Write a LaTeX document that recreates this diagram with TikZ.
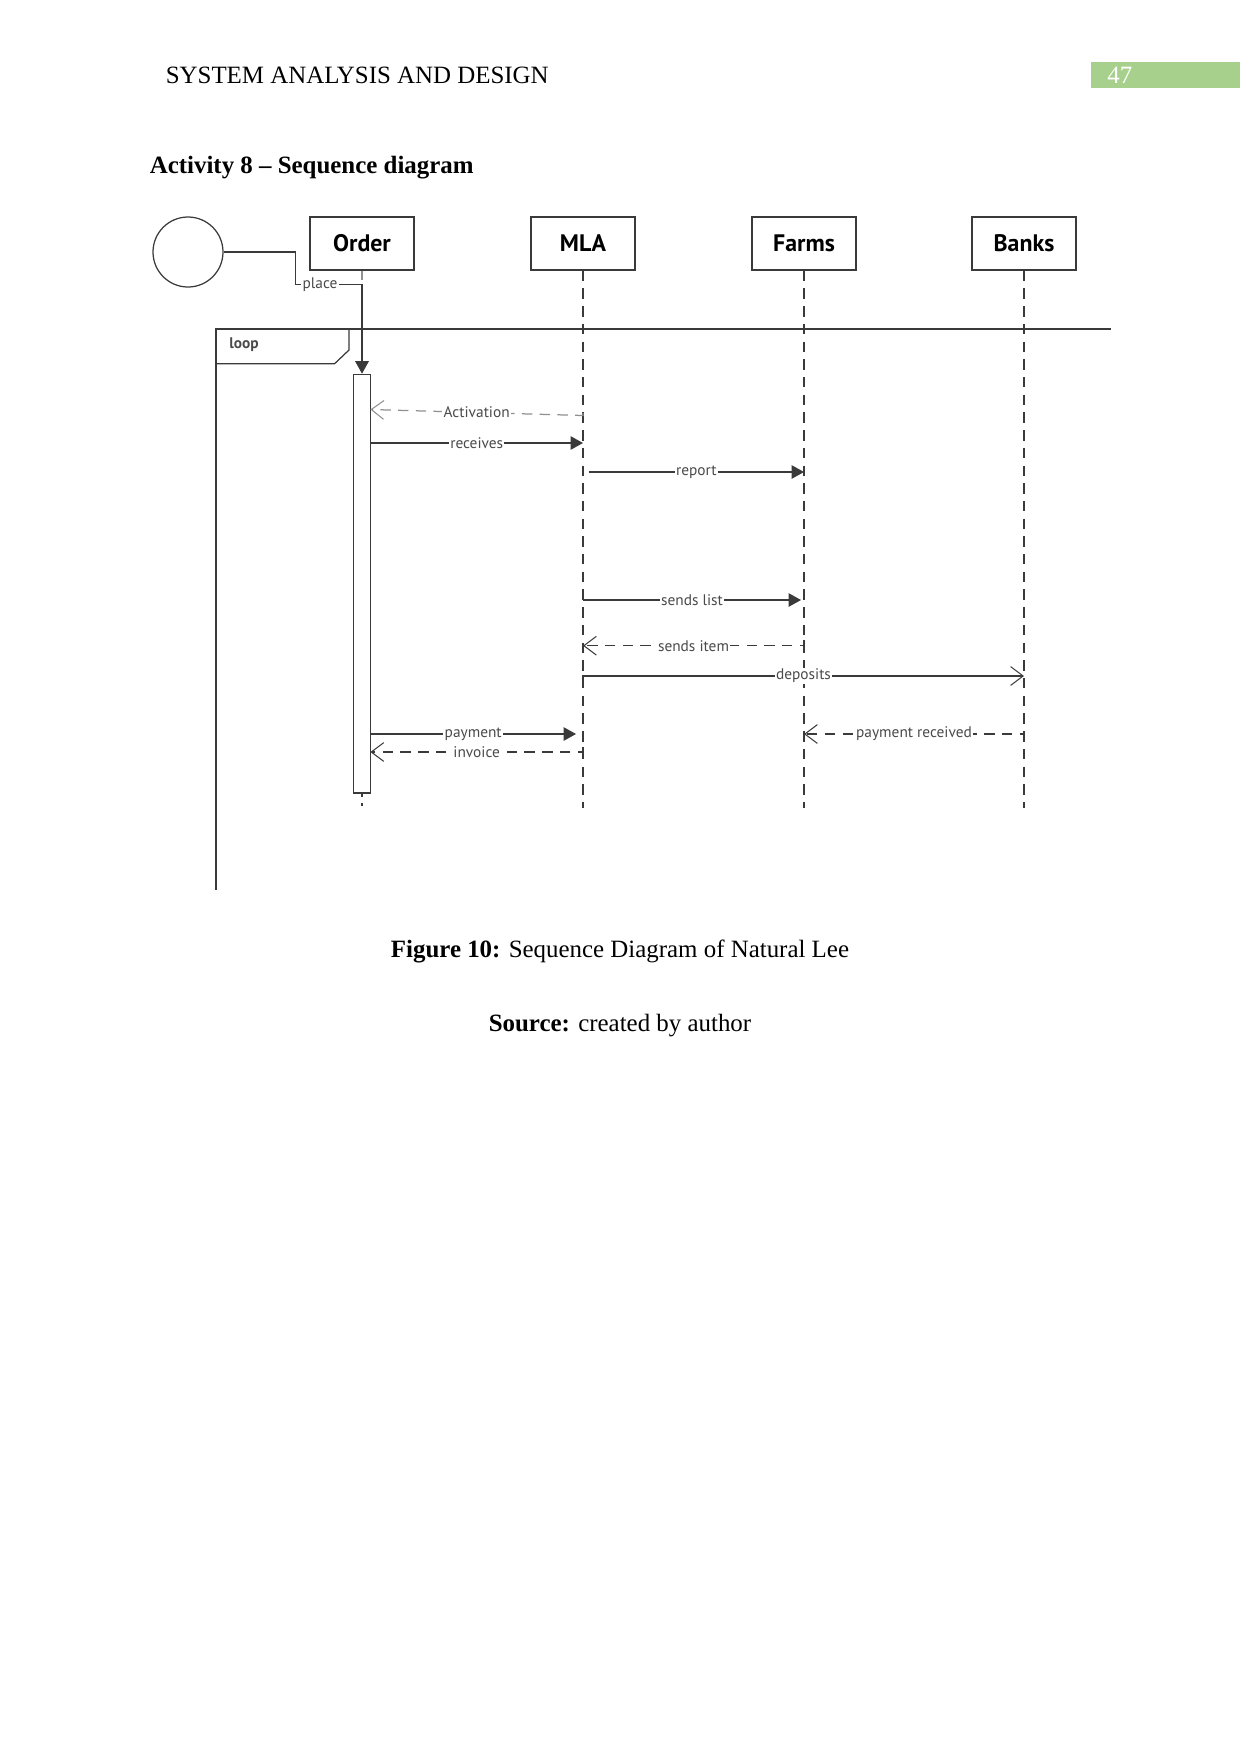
\documentclass[tikz,border=0pt]{standalone}
\usepackage{fontspec}
\setmainfont{Liberation Serif}
\newfontfamily\diag{PT Sans}
\usetikzlibrary{arrows.meta}
\definecolor{ln}{HTML}{3A3A3A}
\definecolor{lt}{HTML}{4A4A4A}
\definecolor{lg}{HTML}{909090}
\definecolor{pgreen}{HTML}{A8D08D}
\def\u{0.48bp}
\tikzset{
  lifebox/.style={draw=ln, line width=0.7pt, minimum width=104*\u, minimum height=53*\u, font=\diag\bfseries\fontsize{11.5}{13}\selectfont, inner sep=0pt},
  lifeline/.style={draw=ln, line width=0.55pt, dash pattern=on 5bp off 3.5bp},
  msgsolid/.style={draw=ln, line width=0.6pt, -{Triangle[length=6bp,width=6.5bp]}},
  msgopen/.style={draw=ln, line width=0.6pt, -{Straight Barb[length=6bp,width=9bp,line width=0.5pt]}},
  retdash/.style={draw=ln, line width=0.6pt, dash pattern=on 5bp off 3.5bp, -{Straight Barb[length=6bp,width=9bp,line width=0.5pt]}},
  lbl/.style={font=\diag\fontsize{7.4}{8}\selectfont, text=lt, fill=white, inner sep=0.6pt},
  frame/.style={draw=ln, line width=0.6pt},
}
\begin{document}
\begin{tikzpicture}[x=0.48bp,y=-0.48bp]
\useasboundingbox (0,0) rectangle (1241,1754);
% header
\node[anchor=west, font=\fontsize{12}{14}\selectfont] (hdr) at (158.5,75) {SYSTEM ANALYSIS AND DESIGN};
\fill[pgreen] (1091,61.5) rectangle (1240,88.4);
\node[anchor=west, text=white, font=\fontsize{12}{14}\selectfont] (pg) at (1100,75) {47};
\node[anchor=west, font=\bfseries\fontsize{12}{14}\selectfont] (title) at (142.5,168) {Activity 8 – Sequence diagram};
% actor
\node[draw=ln, line width=0.6pt, circle, minimum size=70*\u, inner sep=0pt] (circ) at (188,252) {};
% lifeline boxes
\node[lifebox] (order) at (362,243.5) {Order};
\node[lifebox] (mla) at (583,243.5) {MLA};
\node[lifebox] (farms) at (804,243.5) {Farms};
\node[lifebox] (banks) at (1024,243.5) {Banks};
% lifeline ends
\coordinate (mlaE) at (583,808);
\coordinate (farmsE) at (804,808);
\coordinate (banksE) at (1024,808);
\coordinate (orderE) at (362,808);
\coordinate (orderP) at (362,284.2);
\draw[lifeline] (mla.south) -- (mlaE);
\draw[lifeline] (farms.south) -- (farmsE);
\draw[lifeline] (banks.south) -- (banksE);
\draw[draw=lg, line width=0.55pt] (order.south) -- ++(0,9);
% loop frame
\coordinate (lpA) at (216,889.6);
\coordinate (lpB) at (216,329);
\coordinate (lpC) at (1111,329);
\draw[frame] (lpA) -- (lpB) -- (lpC);
\coordinate (lbA) at (216,363.7);
\coordinate (lbB) at (334.6,363.7);
\coordinate (lbC) at (349,350);
\coordinate (lbD) at (349,329);
\draw[frame] (lbA) -- (lbB) -- (lbC) -- (lbD);
\node[anchor=west, font=\diag\bfseries\fontsize{7.4}{8}\selectfont, text=lt] (loopl) at (222,345) {loop};
% activation bar
\node[draw=ln, line width=0.6pt, fill=white, minimum width=17*\u, minimum height=418.6*\u, anchor=north, inner sep=0pt] (act) at (362,373.7) {};
\draw[draw=ln, line width=0.55pt, dash pattern=on 1.5bp off 3bp] (act.south) -- (orderE);
% place
\coordinate (pl1) at (295.4,252);
\coordinate (pl2) at (295.4,284.2);
\draw[msgsolid] (circ.east) -- (pl1) -- (pl2) -- node[lbl, pos=0.37] {place} (orderP) -- (act.north);
% messages
\coordinate (m1a) at (583,413); \coordinate (m1b) at (583,415.5); \coordinate (m1c) at (370.4,409.5);
\draw[draw=lg, line width=0.6pt, dash pattern=on 5bp off 3.5bp, -{Straight Barb[length=6bp,width=9bp,line width=0.5pt]}] (m1a) -- (m1b) -- node[lbl, pos=0.5] {Activation} (m1c);
\coordinate (m2a) at (370.4,443); \coordinate (m2b) at (583,443);
\draw[msgsolid] (m2a) -- node[lbl] {receives} (m2b);
\coordinate (m3a) at (588.6,472); \coordinate (m3b) at (804,472);
\draw[msgsolid] (m3a) -- node[lbl] {report} (m3b);
\coordinate (m4a) at (583,600); \coordinate (m4b) at (801,600);
\draw[msgsolid] (m4a) -- node[lbl] {sends list} (m4b);
\coordinate (m5a) at (804,639.5); \coordinate (m5b) at (804,645.7); \coordinate (m5c) at (583,645.7);
\draw[retdash] (m5a) -- (m5b) -- node[lbl] {sends item} (m5c);
\coordinate (m6a) at (583,682); \coordinate (m6b) at (583,676); \coordinate (m6c) at (1024,676);
\draw[msgopen] (m6a) -- (m6b) -- node[lbl] {deposits} (m6c);
\coordinate (m7a) at (1024,740) ; \coordinate (m7b) at (1024,734); \coordinate (m7c) at (804,734);
\draw[retdash] (m7a) -- (m7b) -- node[lbl] {payment received} (m7c);
\coordinate (m8a) at (370.4,734); \coordinate (m8b) at (576,734);
\draw[msgsolid] (m8a) -- node[lbl] {payment} (m8b);
\coordinate (m9a) at (583,747); \coordinate (m9b) at (583,752); \coordinate (m9c) at (370.4,752);
\draw[retdash] (m9a) -- (m9b) -- node[lbl] {invoice} (m9c);
% captions
\node[font=\fontsize{12}{14}\selectfont] (fig) at (620,951.5) {\textbf{Figure 10:} Sequence Diagram of Natural Lee};
\node[font=\fontsize{12}{14}\selectfont] (src) at (620,1026) {\textbf{Source:} created by author};
\end{tikzpicture}
\end{document}
